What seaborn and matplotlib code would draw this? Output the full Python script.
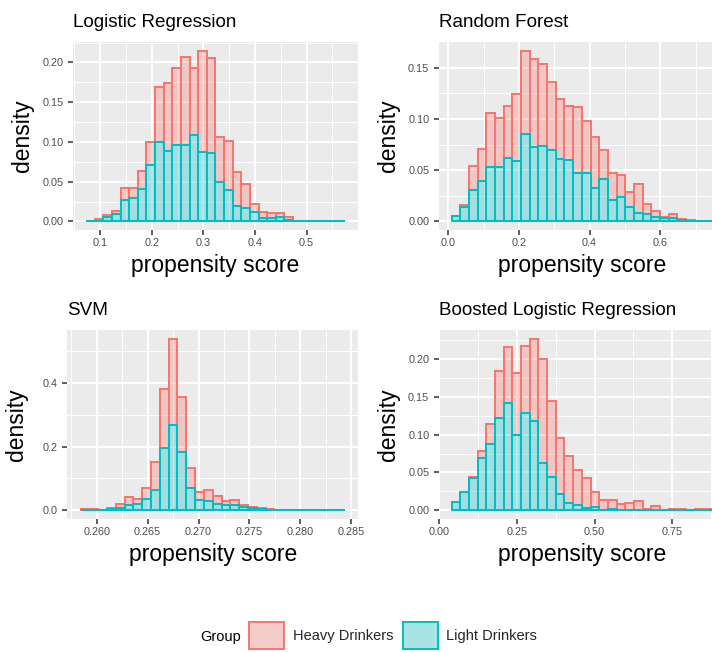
import numpy as np
import pandas as pd
import matplotlib
matplotlib.use("Agg")
import matplotlib.pyplot as plt
from matplotlib.patches import Patch
from matplotlib.ticker import FixedLocator, FixedFormatter, MultipleLocator
from matplotlib.colors import to_rgb
import seaborn as sns

# ---------------- data ----------------
groups = ["Heavy Drinkers", "Light Drinkers"]
group_colors = ["#F8766D", "#00BFC4"]

titles = ["Logistic Regression", "Random Forest", "SVM", "Boosted Logistic Regression"]

# first and last bin centre of the propensity scores (30 bins each)
lr_range = (0.0813, 0.5656)
rf_range = (0.0219, 0.7344)
svm_range = (0.25886, 0.28392)
blr_range = (0.0540, 0.8640)

lr_heavy = [0.0002, 0.0015, 0.0029, 0.0029, 0.0155, 0.012, 0.023, 0.0282, 0.0692, 0.0856,
            0.0959, 0.1101, 0.0845, 0.1272, 0.119, 0.056, 0.0615, 0.0423, 0.0303, 0.0094,
            0.0076, 0.0072, 0.005, 0.0038, 0.0005, 0.0005, 0.0002, 0.0002, 0.0002, 0.0002]
lr_light = [0.0003, 0.001, 0.0055, 0.0097, 0.0265, 0.030, 0.041, 0.0714, 0.1004, 0.089,
            0.0966, 0.0966, 0.1088, 0.0874, 0.086, 0.050, 0.0395, 0.0197, 0.0172, 0.012,
            0.0046, 0.0038, 0.006, 0.0017, 0.0005, 0.0003, 0.0003, 0.0003, 0.0003, 0.0003]

rf_heavy = [0.0005, 0.002, 0.0237, 0.032, 0.0525, 0.0475, 0.051, 0.0652, 0.0809, 0.0853,
            0.0796, 0.0659, 0.0584, 0.0527, 0.0645, 0.0505, 0.0494, 0.0285, 0.0271, 0.0221,
            0.015, 0.028, 0.0095, 0.0064, 0.001, 0.0042, 0.0014, 0.0009, 0.0002, 0.0001]
rf_light = [0.0049, 0.0137, 0.0303, 0.039, 0.0535, 0.0535, 0.062, 0.0593, 0.0854, 0.0727,
            0.0734, 0.0701, 0.0606, 0.0603, 0.047, 0.0473, 0.0326, 0.041, 0.0205, 0.0235,
            0.0137, 0.0085, 0.0075, 0.004, 0.003, 0.003, 0.0012, 0.0006, 0.0003, 0.0002]

svm_heavy = [0.003, 0.0025, 0.0005, 0.002, 0.012, 0.024, 0.014, 0.0355, 0.0896, 0.186,
             0.271, 0.171, 0.0635, 0.0264, 0.034, 0.024, 0.012, 0.015, 0.0075, 0.0035,
             0.003, 0.002, 0.001, 0.001, 0.0005, 0.0002, 0.0002, 0.0002, 0.0002, 0.0002]
svm_light = [0.001, 0.0005, 0.001, 0.005, 0.007, 0.018, 0.021, 0.035, 0.063, 0.195,
             0.266, 0.184, 0.0705, 0.0316, 0.029, 0.021, 0.016, 0.016, 0.0105, 0.008,
             0.004, 0.002, 0.001, 0.001, 0.0005, 0.0003, 0.0003, 0.0003, 0.0003, 0.0003]

blr_heavy = [0.0003, 0.0005, 0.0022, 0.0093, 0.0265, 0.0624, 0.0737, 0.0824, 0.089, 0.1084,
             0.1376, 0.1, 0.0749, 0.0619, 0.0455, 0.0404, 0.0192, 0.012, 0.0124, 0.0079,
             0.0097, 0.012, 0.0018, 0.0055, 0.0008, 0.0016, 0.0016, 0.0003, 0.0018, 0.0018]
blr_light = [0.0106, 0.0238, 0.0423, 0.0687, 0.0872, 0.1216, 0.1423, 0.0996, 0.128, 0.118,
             0.062, 0.0445, 0.0211, 0.0101, 0.0075, 0.0026, 0.0048, 0.001, 0.0013, 0.0005,
             0.0003, 0.0003, 0.0002, 0.0002, 0.0002, 0.0002, 0.0002, 0.0002, 0.0002, 0.0002]

lr_xticks = [0.1, 0.2, 0.3, 0.4, 0.5]
lr_xlabels = ["0.1", "0.2", "0.3", "0.4", "0.5"]
lr_yticks = [0.0, 0.05, 0.10, 0.15, 0.20]
lr_ylabels = ["0.00", "0.05", "0.10", "0.15", "0.20"]

rf_xticks = [0.0, 0.2, 0.4, 0.6]
rf_xlabels = ["0.0", "0.2", "0.4", "0.6"]
rf_yticks = [0.0, 0.05, 0.10, 0.15]
rf_ylabels = ["0.00", "0.05", "0.10", "0.15"]

svm_xticks = [0.260, 0.265, 0.270, 0.275, 0.280, 0.285]
svm_xlabels = ["0.260", "0.265", "0.270", "0.275", "0.280", "0.285"]
svm_yticks = [0.0, 0.2, 0.4]
svm_ylabels = ["0.0", "0.2", "0.4"]

blr_xticks = [0.0, 0.25, 0.50, 0.75]
blr_xlabels = ["0.00", "0.25", "0.50", "0.75"]
blr_yticks = [0.0, 0.05, 0.10, 0.15, 0.20]
blr_ylabels = ["0.00", "0.05", "0.10", "0.15", "0.20"]

panels = [
    (titles[0], lr_range, lr_heavy, lr_light, lr_xticks, lr_xlabels, lr_yticks, lr_ylabels),
    (titles[1], rf_range, rf_heavy, rf_light, rf_xticks, rf_xlabels, rf_yticks, rf_ylabels),
    (titles[2], svm_range, svm_heavy, svm_light, svm_xticks, svm_xlabels, svm_yticks, svm_ylabels),
    (titles[3], blr_range, blr_heavy, blr_light, blr_xticks, blr_xlabels, blr_yticks, blr_ylabels),
]

# ---------------- layout (pixels) ----------------
W, H = 712, 652
panel_px = [(73.1, 42.3, 357.8, 230.0), (438.7, 42.3, 725.0, 230.0),
            (67.4, 330.4, 358.0, 518.9), (438.7, 330.4, 725.0, 518.9)]
title_base = [27.3, 27.3, 315.4, 315.4]
xlab_base = [272.0, 272.0, 560.9, 560.9]
ylab_x = [22.5, 388.1, 16.8, 388.1]

sns.set_theme(style="darkgrid", rc={"axes.facecolor": "#EBEBEB", "grid.color": "white",
                                     "figure.facecolor": "white"})
plt.rcParams["font.family"] = ["Liberation Sans", "DejaVu Sans"]

fig = plt.figure(figsize=(W / 100, H / 100), dpi=100)

for (title, rng, heavy, light, xt, xl, yt, yl), (l, t, r, b), tb, xb, yx in zip(
        panels, panel_px, title_base, xlab_base, ylab_x):
    ax = fig.add_axes([l / W, 1 - b / H, (r - l) / W, (b - t) / H])
    n = len(heavy)
    centers = np.linspace(rng[0], rng[1], n)
    width = (rng[1] - rng[0]) / (n - 1)
    lo, hi = rng[0] - width / 2, rng[1] + width / 2
    df = pd.DataFrame({
        "score": np.concatenate([centers, centers]),
        "density": list(heavy) + list(light),
        "Group": [groups[0]] * n + [groups[1]] * n,
    })
    sns.histplot(data=df, x="score", weights="density", hue="Group", hue_order=groups,
                 palette=group_colors, bins=n, binrange=(lo, hi), multiple="stack",
                 stat="count", alpha=0.3, linewidth=1.45, legend=False, ax=ax)
    for p in ax.patches:
        fc = p.get_facecolor()
        for c, z in zip(group_colors, [2, 3]):
            if np.allclose(fc[:3], to_rgb(c), atol=0.02):
                p.set_edgecolor(c)
                p.set_zorder(z)
    span = hi - lo
    ax.set_xlim(lo - 0.05 * span, hi + 0.05 * span)
    ymax = max(a + bb for a, bb in zip(heavy, light))
    ax.set_ylim(-0.05 * ymax, 1.05 * ymax)

    ax.xaxis.set_major_locator(FixedLocator(xt))
    ax.xaxis.set_major_formatter(FixedFormatter(xl))
    ax.yaxis.set_major_locator(FixedLocator(yt))
    ax.yaxis.set_major_formatter(FixedFormatter(yl))
    ax.xaxis.set_minor_locator(MultipleLocator((xt[1] - xt[0]) / 2))
    ax.yaxis.set_minor_locator(MultipleLocator((yt[1] - yt[0]) / 2))
    ax.grid(which="major", color="white", linewidth=1.4)
    ax.grid(which="minor", color="white", linewidth=0.7)
    ax.set_axisbelow(True)
    ax.tick_params(which="major", length=3.6, width=1.1, color="#333333",
                   labelcolor="#4D4D4D", labelsize=7.8)
    ax.tick_params(axis="x", which="major", pad=2.5, bottom=True)
    ax.tick_params(axis="y", which="major", pad=3.2, left=True)
    ax.tick_params(which="minor", length=0)
    for s in ax.spines.values():
        s.set_visible(False)
    ax.set_xlabel("")
    ax.set_ylabel("")

    fig.text(l / W, 1 - tb / H, title, fontsize=13.6, ha="left", va="baseline", color="black")
    fig.text((l + r) / 2 / W, 1 - xb / H, "propensity score", fontsize=16.5,
             ha="center", va="baseline", color="black")
    fig.text(yx / W, 1 - (t + b) / 2 / H, "density", fontsize=16.5, rotation=90,
             ha="center", va="center", color="black")

# ---------------- legend ----------------
key_bg = np.array(to_rgb("#F2F2F2"))
handles = [Patch(facecolor=tuple(0.7 * key_bg + 0.3 * np.array(to_rgb(c))),
                 edgecolor=c, linewidth=1.4) for c in group_colors]
fig.text(200 / W, 1 - 637 / H, "Group", fontsize=10.5, ha="left", va="center", color="black")
fig.legend(handles, groups, loc="center left", bbox_to_anchor=(249.3 / W, 1 - 635.5 / H),
           ncol=2, frameon=False, fontsize=10.5, handlelength=2.4, handleheight=2.4,
           handletextpad=0.58, columnspacing=0.65, borderpad=0, borderaxespad=0)

fig.savefig("out.png", dpi=100)
